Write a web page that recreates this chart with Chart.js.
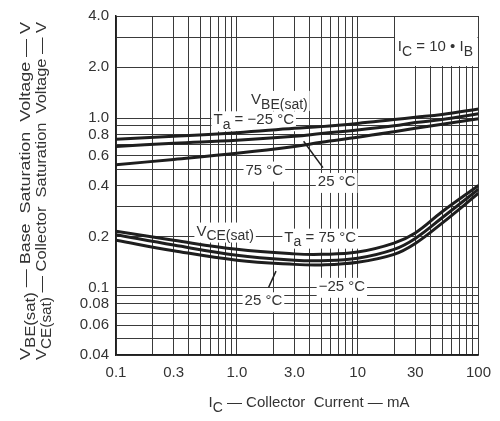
<!DOCTYPE html>
<html>
<head>
<meta charset="utf-8">
<script src="https://cdn.jsdelivr.net/npm/chart.js@4.4.1/dist/chart.umd.min.js"></script>
<style>
  html, body { margin: 0; padding: 0; background: #fff; }
</style>
</head>
<body>
<canvas id="grafico" width="500" height="421"></canvas>
<script>
// Ic (mA) onde as curvas foram lidas
const correnteIc = [0.1, 0.3, 1, 3, 5, 10, 20, 30, 50, 100];

// VBE(sat) por temperatura
const vbeMenos25 = [0.75, 0.78, 0.82, 0.87, 0.89, 0.93, 0.98, 1.01, 1.05, 1.13];
const vbe25      = [0.68, 0.71, 0.74, 0.78, 0.81, 0.85, 0.90, 0.94, 0.98, 1.06];
const vbe75      = [0.53, 0.57, 0.62, 0.68, 0.72, 0.77, 0.83, 0.87, 0.92, 0.99];

// VCE(sat) por temperatura
const vce75      = [0.215, 0.19, 0.168, 0.158, 0.157, 0.162, 0.183, 0.21, 0.28, 0.40];
const vce25      = [0.205, 0.178, 0.155, 0.145, 0.144, 0.149, 0.168, 0.195, 0.258, 0.38];
const vceMenos25 = [0.19, 0.165, 0.145, 0.137, 0.136, 0.141, 0.157, 0.182, 0.24, 0.36];

// grade e rotulos dos eixos
const gradeX = [0.1, 0.2, 0.3, 0.4, 0.5, 0.6, 0.7, 0.8, 0.9,
                1, 2, 3, 4, 5, 6, 7, 8, 9,
                10, 20, 30, 40, 50, 60, 70, 80, 90, 100];
const rotulosX = [0.1, 0.3, 1, 3, 10, 30, 100];
const gradeY = [0.04, 0.05, 0.06, 0.07, 0.08, 0.09,
                0.1, 0.2, 0.3, 0.4, 0.5, 0.6, 0.7, 0.8, 0.9,
                1, 2, 3, 4];
const rotulosY = [0.04, 0.06, 0.08, 0.1, 0.2, 0.4, 0.6, 0.8, 1, 2, 4];

const COR_TEXTO = '#333';
const COR_LINHA = '#1e1e1e';
const fonte = (t) => `${t}px "Liberation Sans", Arial, sans-serif`;

const fmt = (v) => (v === 1 || v === 2 || v === 3 || v === 4) ? v.toFixed(1) : String(v);

const serie = (ys) => correnteIc.map((x, i) => ({ x: x, y: ys[i] }));

// textos dentro do grafico (posicao em coordenadas de dados)
const anotacoes = [
  { partes: [['V'], ['BE(sat)', 1]], x: 2.25, y: 1.28 },
  { partes: [['T'], ['a', 1], [' = \u221225 \u00b0C']], x: 1.38, y: 0.97 },
  { partes: [['75 \u00b0C']], x: 1.69, y: 0.49 },
  { partes: [['25 \u00b0C']], x: 6.7, y: 0.42 },
  { partes: [['V'], ['CE(sat)', 1]], x: 0.8, y: 0.214 },
  { partes: [['T'], ['a', 1], [' = 75 \u00b0C']], x: 4.9, y: 0.197 },
  { partes: [['\u221225 \u00b0C']], x: 7.4, y: 0.101 },
  { partes: [['25 \u00b0C']], x: 1.66, y: 0.083 },
  { partes: [['I'], ['C', 1], [' = 10 \u2022 I'], ['B', 1]], x: 44, y: 2.62 }
];
const setas = [
  { de: [3.57, 0.73], ate: [5.16, 0.51] },
  { de: [2.11, 0.125], ate: [1.83, 0.1] }
];

function larguraPartes(ctx, partes, tam) {
  let w = 0;
  partes.forEach(p => { ctx.font = fonte(p[1] ? tam - 1 : tam); w += ctx.measureText(p[0]).width; });
  return w;
}

function escreverPartes(ctx, partes, x, y, tam) {
  partes.forEach(p => {
    ctx.font = fonte(p[1] ? tam - 1 : tam);
    ctx.fillText(p[0], x, y + (p[1] ? Math.round(tam * 0.3) : 0));
    x += ctx.measureText(p[0]).width;
  });
}

const pluginTextos = {
  id: 'textos',
  beforeDatasetsDraw(chart) {
    const ctx = chart.ctx;
    const sx = chart.scales.x, sy = chart.scales.y;
    ctx.save();
    // caixa branca da condicao Ic = 10 Ib
    const bx = sx.getPixelForValue(20) + 1, by = chart.chartArea.top + 1;
    ctx.fillStyle = '#fff';
    ctx.fillRect(bx, by, chart.chartArea.right - bx - 1, sy.getPixelForValue(2) - by - 1);

    ctx.textBaseline = 'middle';
    const tam = 15;
    anotacoes.forEach(a => {
      const w = larguraPartes(ctx, a.partes, tam);
      const cx = sx.getPixelForValue(a.x), cy = sy.getPixelForValue(a.y);
      ctx.fillStyle = '#fff';
      ctx.fillRect(cx - w / 2 - 2, cy - 9, w + 4, 20);
      ctx.fillStyle = COR_TEXTO;
      escreverPartes(ctx, a.partes, cx - w / 2, cy, tam);
    });
    ctx.restore();
  },
  afterDatasetsDraw(chart) {
    const ctx = chart.ctx;
    const sx = chart.scales.x, sy = chart.scales.y;
    ctx.save();
    ctx.strokeStyle = COR_LINHA;
    ctx.lineWidth = 1.5;
    setas.forEach(s => {
      ctx.beginPath();
      ctx.moveTo(sx.getPixelForValue(s.de[0]), sy.getPixelForValue(s.de[1]));
      ctx.lineTo(sx.getPixelForValue(s.ate[0]), sy.getPixelForValue(s.ate[1]));
      ctx.stroke();
    });
    ctx.restore();
  },
  afterDraw(chart) {
    const ctx = chart.ctx;
    const tam = 15;
    ctx.save();
    ctx.fillStyle = COR_TEXTO;
    ctx.textBaseline = 'middle';
    // titulo do eixo x
    const tx = [['I'], ['C', 1], [' \u2014 Collector  Current \u2014 mA']];
    const wx = larguraPartes(ctx, tx, tam);
    escreverPartes(ctx, tx, 309 - wx / 2, 403, tam);

    // titulo do eixo y (duas linhas)
    const linhas = [
      { partes: [['V'], ['BE(sat)', 1], [' \u2014 Base  Saturation  Voltage \u2014 V']], cx: 26 },
      { partes: [['V'], ['CE(sat)', 1], [' \u2014 Collector  Saturation  Voltage \u2014 V']], cx: 42 }
    ];
    linhas.forEach(l => {
      const w = larguraPartes(ctx, l.partes, tam);
      const alvo = 338;
      ctx.save();
      ctx.translate(l.cx, 191);
      ctx.rotate(-Math.PI / 2);
      ctx.scale(alvo / w, 1);
      escreverPartes(ctx, l.partes, -w / 2, 0, tam);
      ctx.restore();
    });
    ctx.restore();
  }
};

const estiloCurva = {
  borderColor: COR_LINHA,
  borderWidth: 3,
  pointRadius: 0,
  fill: false,
  tension: 0.4
};

new Chart(document.getElementById('grafico'), {
  type: 'line',
  data: {
    datasets: [
      { label: 'VBE -25', data: serie(vbeMenos25), ...estiloCurva },
      { label: 'VBE 25', data: serie(vbe25), ...estiloCurva },
      { label: 'VBE 75', data: serie(vbe75), ...estiloCurva },
      { label: 'VCE 75', data: serie(vce75), ...estiloCurva },
      { label: 'VCE 25', data: serie(vce25), ...estiloCurva },
      { label: 'VCE -25', data: serie(vceMenos25), ...estiloCurva }
    ]
  },
  options: {
    responsive: false,
    animation: false,
    layout: { padding: { left: 0, right: 13, top: 14, bottom: 0 } },
    plugins: { legend: { display: false }, tooltip: { enabled: false } },
    scales: {
      x: {
        type: 'logarithmic',
        min: 0.1,
        max: 100,
        afterBuildTicks: (s) => { s.ticks = gradeX.map(v => ({ value: v })); },
        afterFit: (s) => { s.height = 66; },
        grid: { color: '#3a3a3a', lineWidth: 1, drawTicks: false },
        border: { color: '#1e1e1e', width: 1.5 },
        ticks: {
          autoSkip: false,
          maxRotation: 0,
          padding: 9,
          color: COR_TEXTO,
          font: { family: '"Liberation Sans", Arial, sans-serif', size: 15 },
          callback: (v) => rotulosX.includes(v) ? fmt(v) : ''
        }
      },
      y: {
        type: 'logarithmic',
        min: 0.04,
        max: 4,
        afterBuildTicks: (s) => { s.ticks = gradeY.map(v => ({ value: v })); },
        afterFit: (s) => { s.width = 116; },
        grid: { color: '#3a3a3a', lineWidth: 1, drawTicks: false },
        border: { color: '#1e1e1e', width: 1.5 },
        ticks: {
          autoSkip: false,
          padding: 7,
          color: COR_TEXTO,
          font: { family: '"Liberation Sans", Arial, sans-serif', size: 15 },
          callback: (v) => rotulosY.includes(v) ? fmt(v) : ''
        }
      }
    }
  },
  plugins: [pluginTextos]
});
</script>
</body>
</html>
